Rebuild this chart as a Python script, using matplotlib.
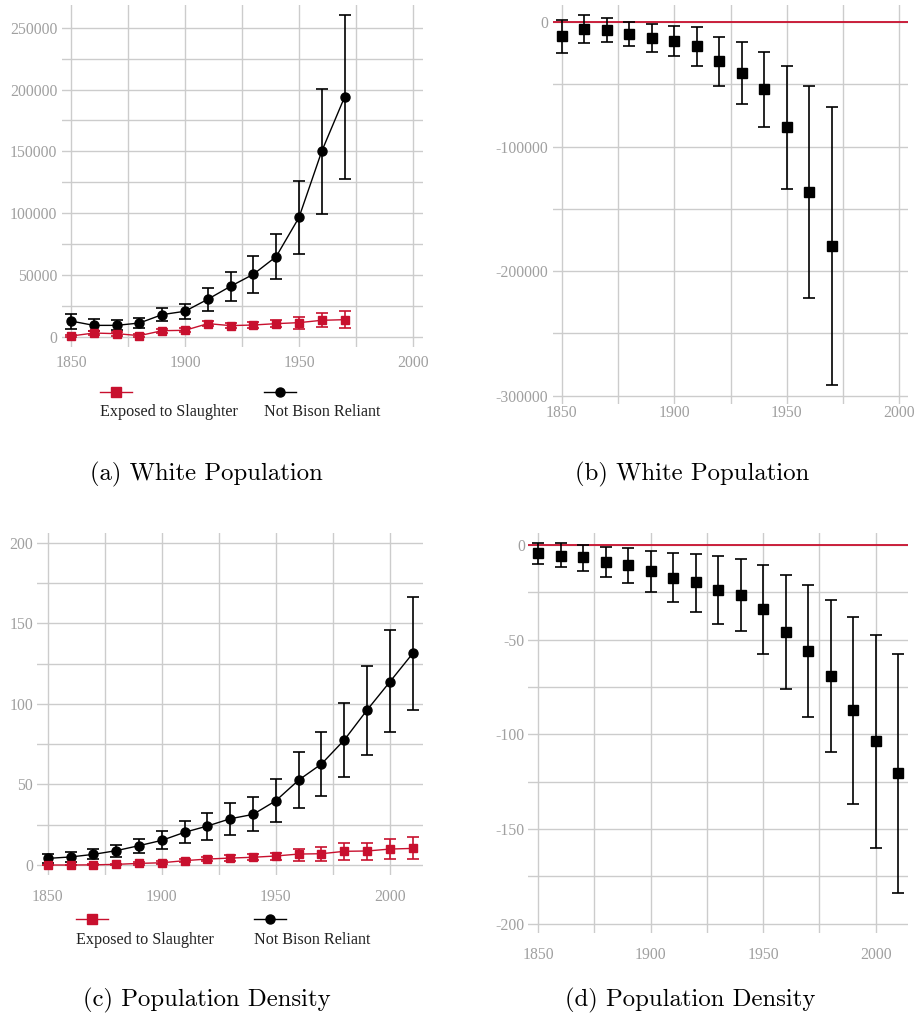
import matplotlib
matplotlib.use("Agg")
import matplotlib.pyplot as plt
from matplotlib.lines import Line2D

plt.rcParams['axes.unicode_minus'] = False

# colours
RED = '#c8102e'
GRID = '#cccccc'
TICKCOL = '#a0a0a0'

# ---- (a) white population, levels
years_a = [1850, 1860, 1870, 1880, 1890, 1900, 1910, 1920, 1930, 1940, 1950, 1960, 1970]
nbr_a = [12900, 9400, 9400, 11300, 18100, 20800, 30500, 41000, 50700, 65000, 96600, 150200, 193900]
nbr_a_lo = [6200, 4600, 5400, 7300, 12900, 14800, 21300, 29100, 35600, 46700, 66900, 99800, 127600]
nbr_a_hi = [18900, 14300, 13500, 15400, 23200, 26700, 39400, 52600, 65500, 83100, 126200, 200400, 260000]
exp_a = [800, 3200, 2700, 1100, 5100, 5400, 10800, 9200, 9700, 10800, 11600, 13500, 14000]
exp_a_lo = [0, 1500, 1200, 0, 3500, 3800, 8800, 7200, 7400, 8200, 6700, 8100, 7000]
exp_a_hi = [1800, 4800, 4200, 2300, 6800, 7000, 12800, 11200, 12000, 13400, 16200, 19400, 21000]

# ---- (b) white population, difference
years_b = [1850, 1860, 1870, 1880, 1890, 1900, 1910, 1920, 1930, 1940, 1950, 1960, 1970]
diff_b = [-11200, -5900, -6700, -9900, -13100, -15300, -19500, -31600, -40900, -54100, -84600, -136700, -180100]
diff_b_lo = [-25200, -16600, -16300, -19300, -23800, -27000, -35300, -51100, -65600, -84600, -134300, -221800, -291400]
diff_b_hi = [1300, 5400, 2900, 0, -1900, -3500, -4300, -12000, -16300, -24400, -35100, -51600, -68200]

# ---- (c) population density, levels
years_c = [1850, 1860, 1870, 1880, 1890, 1900, 1910, 1920, 1930, 1940, 1950, 1960, 1970, 1980, 1990, 2000, 2010]
nbr_c = [4.1, 5.0, 6.6, 8.9, 12.0, 15.3, 20.3, 24.2, 28.7, 31.4, 39.9, 52.7, 62.7, 77.6, 96.2, 113.7, 131.3]
nbr_c_lo = [1.4, 2.1, 3.5, 5.2, 7.4, 9.7, 13.4, 15.5, 18.6, 20.9, 26.5, 35.4, 43.0, 54.8, 68.5, 82.5, 96.2]
nbr_c_hi = [6.8, 7.9, 9.7, 12.6, 16.1, 20.9, 27.1, 32.3, 38.7, 42.0, 53.1, 70.1, 82.7, 100.3, 123.7, 145.6, 166.3]
exp_c = [0.0, 0.0, 0.1, 0.4, 1.0, 1.4, 2.7, 3.7, 4.3, 4.8, 5.6, 6.8, 7.0, 8.5, 8.7, 9.9, 10.3]
exp_c_lo = [0.0, 0.0, 0.0, 0.0, 0.3, 0.6, 1.6, 2.3, 2.6, 2.9, 3.1, 2.7, 2.7, 3.1, 3.3, 3.7, 3.7]
exp_c_hi = [0.2, 0.3, 0.4, 0.9, 1.8, 2.3, 3.9, 5.2, 6.1, 6.8, 7.7, 9.7, 11.2, 13.4, 13.9, 15.9, 17.6]

# ---- (d) population density, difference
years_d = [1850, 1860, 1870, 1880, 1890, 1900, 1910, 1920, 1930, 1940, 1950, 1960, 1970, 1980, 1990, 2000, 2010]
diff_d = [-4.4, -5.6, -6.5, -8.8, -10.7, -13.9, -17.3, -19.7, -23.9, -26.6, -34.0, -46.1, -56.2, -69.4, -87.3, -103.7, -120.6]
diff_d_lo = [-9.9, -11.6, -13.6, -16.7, -20.2, -24.8, -30.1, -35.2, -41.9, -45.4, -57.6, -75.9, -90.8, -109.5, -136.8, -160.2, -183.6]
diff_d_hi = [1.1, 0.9, 0.2, -0.9, -1.4, -3.0, -4.2, -4.6, -5.6, -7.6, -10.7, -16.0, -21.0, -28.9, -38.0, -47.5, -57.4]

x_major = [1850, 1900, 1950, 2000]
x_minor = [1875, 1925, 1975]

fig = plt.figure(figsize=(9.16, 10.18), dpi=100)
W, H = 916.0, 1018.0


def make_ax(l, t, r, b):
    return fig.add_axes([l / W, 1 - b / H, (r - l) / W, (b - t) / H])


def style(ax, xlim, ylim, ymaj, ymin, xpad, ypad):
    ax.set_xlim(*xlim)
    ax.set_ylim(*ylim)
    ax.set_xticks(x_major, labels=[str(v) for v in x_major])
    ax.set_xticks(x_minor, minor=True)
    ax.set_yticks(ymaj, labels=[str(v) for v in ymaj])
    ax.set_yticks(ymin, minor=True)
    for s in ax.spines.values():
        s.set_visible(False)
    ax.grid(True, which='both', color=GRID, linewidth=1.0)
    ax.set_axisbelow(True)
    ax.tick_params(which='both', length=0, labelcolor=TICKCOL, labelsize=11.3)
    ax.tick_params(axis='x', pad=xpad)
    ax.tick_params(axis='y', pad=ypad)
    for lab in ax.get_xticklabels() + ax.get_yticklabels():
        lab.set_fontfamily('Liberation Serif')


def errs(v, lo, hi):
    return [[a - b for a, b in zip(v, lo)], [b - a for a, b in zip(v, hi)]]


def levels(ax, yrs, nb, nb_lo, nb_hi, ex, ex_lo, ex_hi):
    ax.errorbar(yrs, nb, yerr=errs(nb, nb_lo, nb_hi), color='black', ecolor='black',
                marker='o', markersize=6.5, linewidth=1.0, elinewidth=1.2, capsize=4, capthick=1.2, zorder=3)
    ax.errorbar(yrs, ex, yerr=errs(ex, ex_lo, ex_hi), color=RED, ecolor=RED,
                marker='s', markersize=6.3, linewidth=1.0, elinewidth=1.2, capsize=4, capthick=1.2, zorder=4)


def diffs(ax, yrs, d, lo, hi):
    ax.axhline(0, color=RED, linewidth=1.3, zorder=2)
    ax.errorbar(yrs, d, yerr=errs(d, lo, hi), color='black', ecolor='black', linestyle='none',
                marker='s', markersize=7, elinewidth=1.2, capsize=4, capthick=1.2, zorder=3)


def legend(x0, x1, y, gap):
    # red handle + text, black handle + text, marker above label
    for k, (col, mk, lab) in enumerate([(RED, 's', 'Exposed to Slaughter'), ('black', 'o', 'Not Bison Reliant')]):
        xs = x0 if k == 0 else x1
        fig.add_artist(Line2D([xs / W, (xs + 32) / W], [1 - y / H, 1 - y / H], color=col, linewidth=1.0,
                              transform=fig.transFigure))
        fig.add_artist(Line2D([(xs + 16) / W], [1 - y / H], color=col, marker=mk, markersize=6.5,
                              transform=fig.transFigure))
        fig.text(xs / W, 1 - (y + gap) / H, lab, fontsize=11.6, family='Liberation Serif',
                 color='#222222', va='center', ha='left')


# (a)
ax_a = make_ax(62, 5, 423, 347)
levels(ax_a, years_a, nbr_a, nbr_a_lo, nbr_a_hi, exp_a, exp_a_lo, exp_a_hi)
style(ax_a, (1846.05, 2004.4), (-8083, 268347),
      [0, 50000, 100000, 150000, 200000, 250000], [25000, 75000, 125000, 175000, 225000], 6, 3.5)
legend(100, 264, 392, 20)

# (b)
ax_b = make_ax(553, 5, 908, 404)
diffs(ax_b, years_b, diff_b, diff_b_lo, diff_b_hi)
style(ax_b, (1846.1, 2003.8), (-306600, 13640),
      [0, -100000, -200000, -300000], [-50000, -150000, -250000], 1, 3.5)

# (c)
ax_c = make_ax(37.3, 533, 423, 875)
levels(ax_c, years_c, nbr_c, nbr_c_lo, nbr_c_hi, exp_c, exp_c_lo, exp_c_hi)
style(ax_c, (1845.4, 2014.5), (-6.2, 206),
      [0, 50, 100, 150, 200], [25, 75, 125, 175], 10, 3)
legend(76, 254, 919, 21)

# (d)
ax_d = make_ax(528.3, 533, 908.3, 933)
diffs(ax_d, years_d, diff_d, diff_d_lo, diff_d_hi)
style(ax_d, (1845.6, 2014.5), (-204.9, 6.3),
      [0, -50, -100, -150, -200], [-25, -75, -125, -175], 10, 2.5)

# captions
for cx, cy, txt in [(206, 474, '(a) White Population'), (692, 474, '(b) White Population'),
                    (207, 1000, '(c) Population Density'), (690, 1000, '(d) Population Density')]:
    fig.text(cx / W, 1 - cy / H, txt, family='cmr10', fontsize=17.8, ha='center', va='center', color='black')

fig.savefig('out.png', dpi=100)
